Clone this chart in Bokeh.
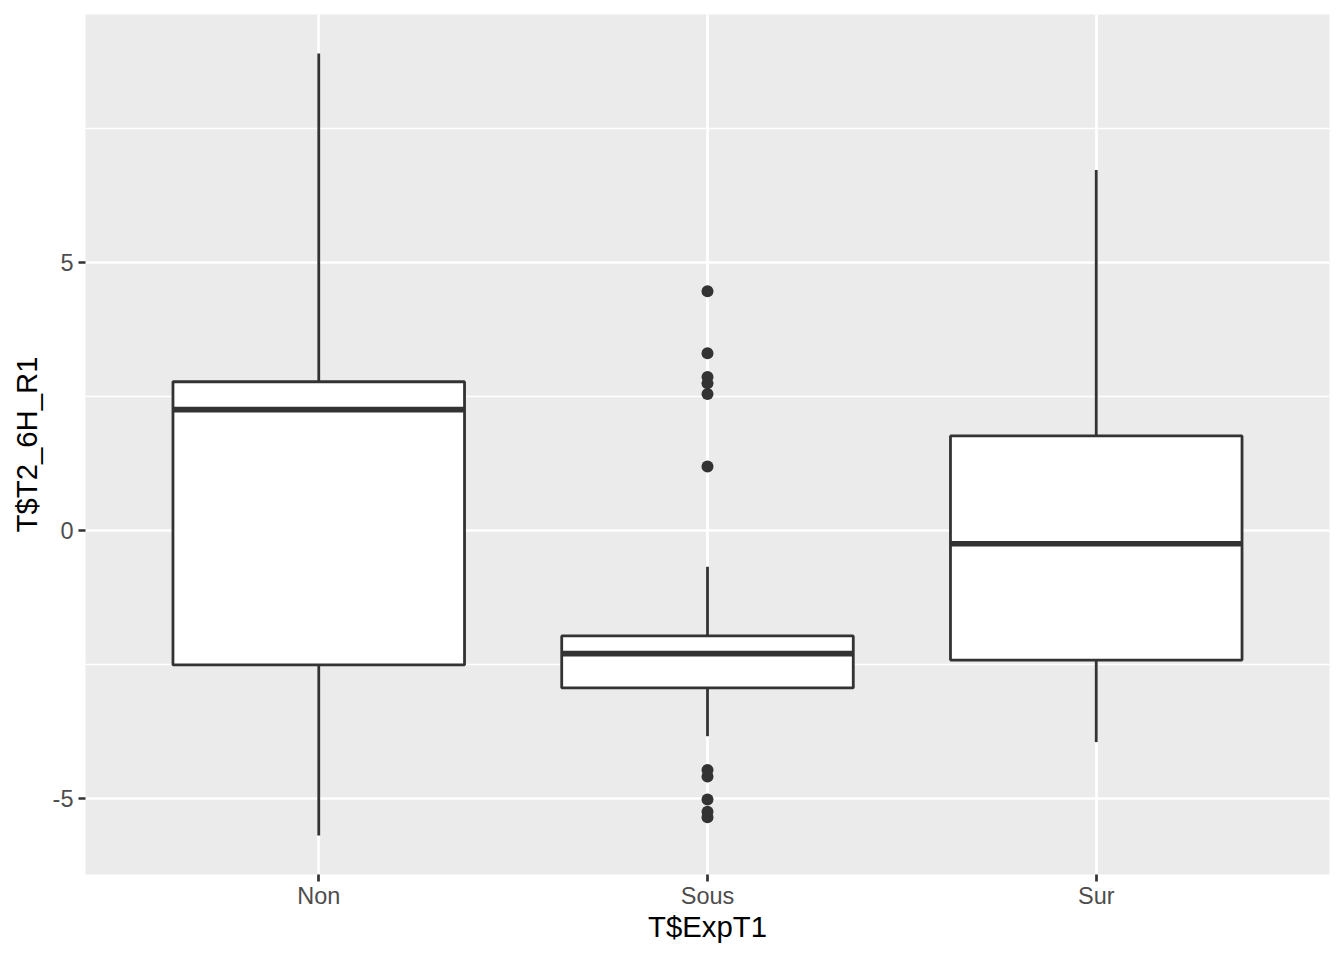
from bokeh.plotting import figure
from bokeh.models import Range1d, FixedTicker, ColumnDataSource
from bokeh.embed import file_html
from bokeh.resources import INLINE

# ---- data ----
categories = ["Non", "Sous", "Sur"]
whisker_low = [-5.68, -3.83, -3.94]
q1 = [-2.50, -2.93, -2.41]
median = [2.26, -2.29, -0.24]
q3 = [2.78, -1.96, 1.77]
whisker_high = [8.90, -0.67, 6.73]
outlier_cat = ["Sous"] * 11
outlier_val = [4.47, 3.31, 2.87, 2.75, 2.55, 1.20, -4.46, -4.58, -5.01, -5.24, -5.34]

x_title = "T$ExpT1"
y_title = "T$T2_6H_R1"
y_ticks = [-5, 0, 5]
y_minor = [-2.5, 2.5, 7.5]

# ---- derived ----
xpos = [i + 1 for i in range(len(categories))]
cat_index = {c: i + 1 for i, c in enumerate(categories)}
ox = [cat_index[c] for c in outlier_cat]
all_vals = whisker_low + whisker_high + outlier_val
lo, hi = min(all_vals), max(all_vals)
span = hi - lo
y_range = Range1d(lo - 0.05 * span, hi + 0.05 * span)
x_range = Range1d(0.4, len(categories) + 0.6)
bw = 0.75

EDGE = "#333333"
LW = 2.8

p = figure(width=1336, height=952, x_range=x_range, y_range=y_range,
           output_backend="svg", toolbar_location=None,
           min_border_left=85, min_border_right=7, min_border_top=14, min_border_bottom=78)
p.background_fill_color = "#EBEBEB"
p.border_fill_color = "white"
p.outline_line_color = None

# grid
p.xgrid.ticker = FixedTicker(ticks=xpos)
p.ygrid.ticker = FixedTicker(ticks=y_ticks, minor_ticks=y_minor)
for g in (p.xgrid, p.ygrid):
    g.grid_line_color = "white"
    g.grid_line_width = 2.7
p.ygrid.minor_grid_line_color = "white"
p.ygrid.minor_grid_line_width = 1.35

src = ColumnDataSource(dict(x=xpos, lo=whisker_low, q1=q1, med=median, q3=q3, hi=whisker_high,
                            left=[x - bw / 2 for x in xpos], right=[x + bw / 2 for x in xpos]))

# whiskers
p.segment(x0="x", y0="q3", x1="x", y1="hi", source=src, line_color=EDGE, line_width=LW)
p.segment(x0="x", y0="lo", x1="x", y1="q1", source=src, line_color=EDGE, line_width=LW)
# boxes
p.quad(left="left", right="right", bottom="q1", top="q3", source=src,
       fill_color="white", line_color=EDGE, line_width=LW)
# medians
p.segment(x0="left", y0="med", x1="right", y1="med", source=src, line_color=EDGE, line_width=2 * LW)
# outliers
p.scatter(x=ox, y=outlier_val, size=12, fill_color=EDGE, line_color=EDGE, line_width=0)

# axes
p.xaxis.ticker = FixedTicker(ticks=xpos)
p.xaxis.major_label_overrides = {x: c for x, c in zip(xpos, categories)}
p.yaxis.ticker = FixedTicker(ticks=y_ticks, minor_ticks=[])
p.yaxis.major_label_overrides = {t: ("-" + str(abs(t)) if t < 0 else str(t)) for t in y_ticks}
for ax in (p.xaxis, p.yaxis):
    ax.axis_line_color = None
    ax.major_tick_line_color = EDGE
    ax.major_tick_line_width = 2.7
    ax.major_tick_out = 7
    ax.major_tick_in = 0
    ax.minor_tick_line_color = None
    ax.major_label_text_color = "#4D4D4D"
    ax.major_label_text_font = "Liberation Sans"
    ax.major_label_text_font_size = "23.5px"
    ax.axis_label_text_font = "Liberation Sans"
    ax.axis_label_text_font_size = "29.3px"
    ax.axis_label_text_font_style = "normal"
    ax.axis_label_text_color = "black"
p.xaxis.major_label_standoff = 1
p.yaxis.major_label_standoff = 5
p.xaxis.axis_label = x_title
p.yaxis.axis_label = y_title
p.xaxis.axis_label_standoff = -2
p.yaxis.axis_label_standoff = 7

open("out.html", "w").write(file_html(p, INLINE))
